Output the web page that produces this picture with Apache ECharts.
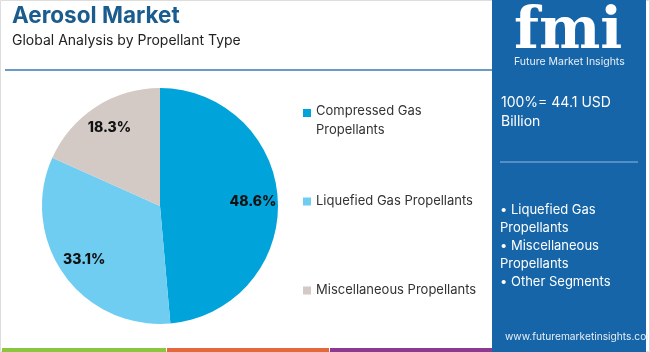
<!DOCTYPE html>
<html>
<head>
<meta charset="utf-8">
<script src="https://cdn.jsdelivr.net/npm/echarts@6/dist/echarts.min.js"></script>
<style>
  html, body { margin: 0; padding: 0; background: #fff; }
  #main { width: 650px; height: 352px; }
</style>
</head>
<body>
<div id="main"></div>
<script>
// segment names and their share of the 44.1 USD Billion total
const categories = ['Compressed Gas Propellants', 'Liquefied Gas Propellants', 'Miscellaneous Propellants'];
const shares = [48.6, 33.1, 18.3];
const legendLabels = ['Compressed Gas\nPropellants', 'Liquefied Gas Propellants', 'Miscellaneous Propellants'];
const panelLines = ['• Liquefied Gas', 'Propellants', '• Miscellaneous', 'Propellants', '• Other Segments'];

const palette = ['#00a3da', '#6fcdf2', '#d3c9c5'];
const font = 'Inter, "Noto Sans", sans-serif';

let chart = echarts.init(document.getElementById('main'));

let pieData = categories.map((name, i) => ({
  name: name,
  value: shares[i],
  itemStyle: { color: palette[i] }
}));

// first legend item wraps: square sits at the top of a tall icon box so it lines up with line one
let tallIcon = 'path://M0,0H10V10H0Z M0,30H0.01V30.01H0Z';
let legendTops = [97, 187, 276];
let legends = categories.map((name, i) => ({
  data: [name],
  left: 298,
  top: legendTops[i],
  orient: 'vertical',
  itemWidth: 8,
  itemHeight: i === 0 ? 28 : 8,
  icon: i === 0 ? tallIcon : 'rect',
  selectedMode: false,
  formatter: () => legendLabels[i],
  textStyle: {
    fontFamily: font,
    fontSize: 13,
    color: '#333',
    lineHeight: 19
  }
}));

let panelText = panelLines.map((t, i) => ({
  type: 'text',
  left: 500,
  top: 204 + i * 17.8,
  style: { text: t, font: '13px ' + font, fill: '#fff' }
}));

let option = {
  animation: false,
  legend: legends,
  graphic: [
    { type: 'rect', shape: { x: 0.5, y: 0.5, width: 649, height: 351 }, style: { fill: 'none', stroke: '#ddd' } },
    { type: 'text', left: 12, top: 5, style: { text: 'Aerosol Market', font: 'bold 22.5px ' + font, fill: '#1b5c8f' } },
    { type: 'text', left: 12, top: 34, style: { text: 'Global Analysis by Propellant Type', font: '14px ' + font, fill: '#222' } },
    { type: 'line', shape: { x1: 5, y1: 70, x2: 492, y2: 70 }, style: { stroke: '#3b78b5', lineWidth: 1.5 } },
    { type: 'rect', shape: { x: 492, y: 0, width: 154, height: 352 }, style: { fill: '#1665a8' } },
    { type: 'text', left: 514, top: 4, style: { text: 'fmi', font: 'bold 58px "DejaVu Serif", serif', fill: '#fff' } },
    { type: 'text', left: 514, top: 56, style: { text: 'Future Market Insights', font: '10.5px ' + font, fill: '#e6eef6' } },
    { type: 'text', left: 501, top: 96, style: { text: '100%= 44.1 USD', font: '14px ' + font, fill: '#fff' } },
    { type: 'text', left: 501, top: 115, style: { text: 'Billion', font: '14px ' + font, fill: '#fff' } },
    { type: 'line', shape: { x1: 500, y1: 162, x2: 638, y2: 162 }, style: { stroke: '#8fb9e2', lineWidth: 1.2 } },
    ...panelText,
    { type: 'text', left: 505, top: 332, style: { text: 'www.futuremarketinsights.com', font: '10.2px ' + font, fill: '#e6eef6' } },
    { type: 'rect', shape: { x: 2, y: 348, width: 164, height: 4 }, style: { fill: '#8cc63f' } },
    { type: 'rect', shape: { x: 167, y: 348, width: 162, height: 4 }, style: { fill: '#e4683a' } },
    { type: 'rect', shape: { x: 330, y: 348, width: 162, height: 4 }, style: { fill: '#8b3a8f' } }
  ],
  series: [
    {
      type: 'pie',
      center: [160, 206],
      radius: 118,
      startAngle: 90,
      silent: true,
      label: { show: false },
      labelLine: { show: false },
      data: pieData
    },
    {
      // transparent ring that only carries the percentage labels
      type: 'pie',
      center: [160, 206],
      radius: [62, 118],
      startAngle: 90,
      silent: true,
      itemStyle: { color: 'transparent' },
      label: {
        show: true,
        position: 'inside',
        formatter: p => p.value.toFixed(1) + '%',
        fontFamily: font,
        fontWeight: 800,
        fontSize: 14,
        color: '#111'
      },
      labelLine: { show: false },
      data: categories.map((name, i) => ({ name: name + ' ', value: shares[i] }))
    }
  ]
};

option && chart.setOption(option);
</script>
</body>
</html>
